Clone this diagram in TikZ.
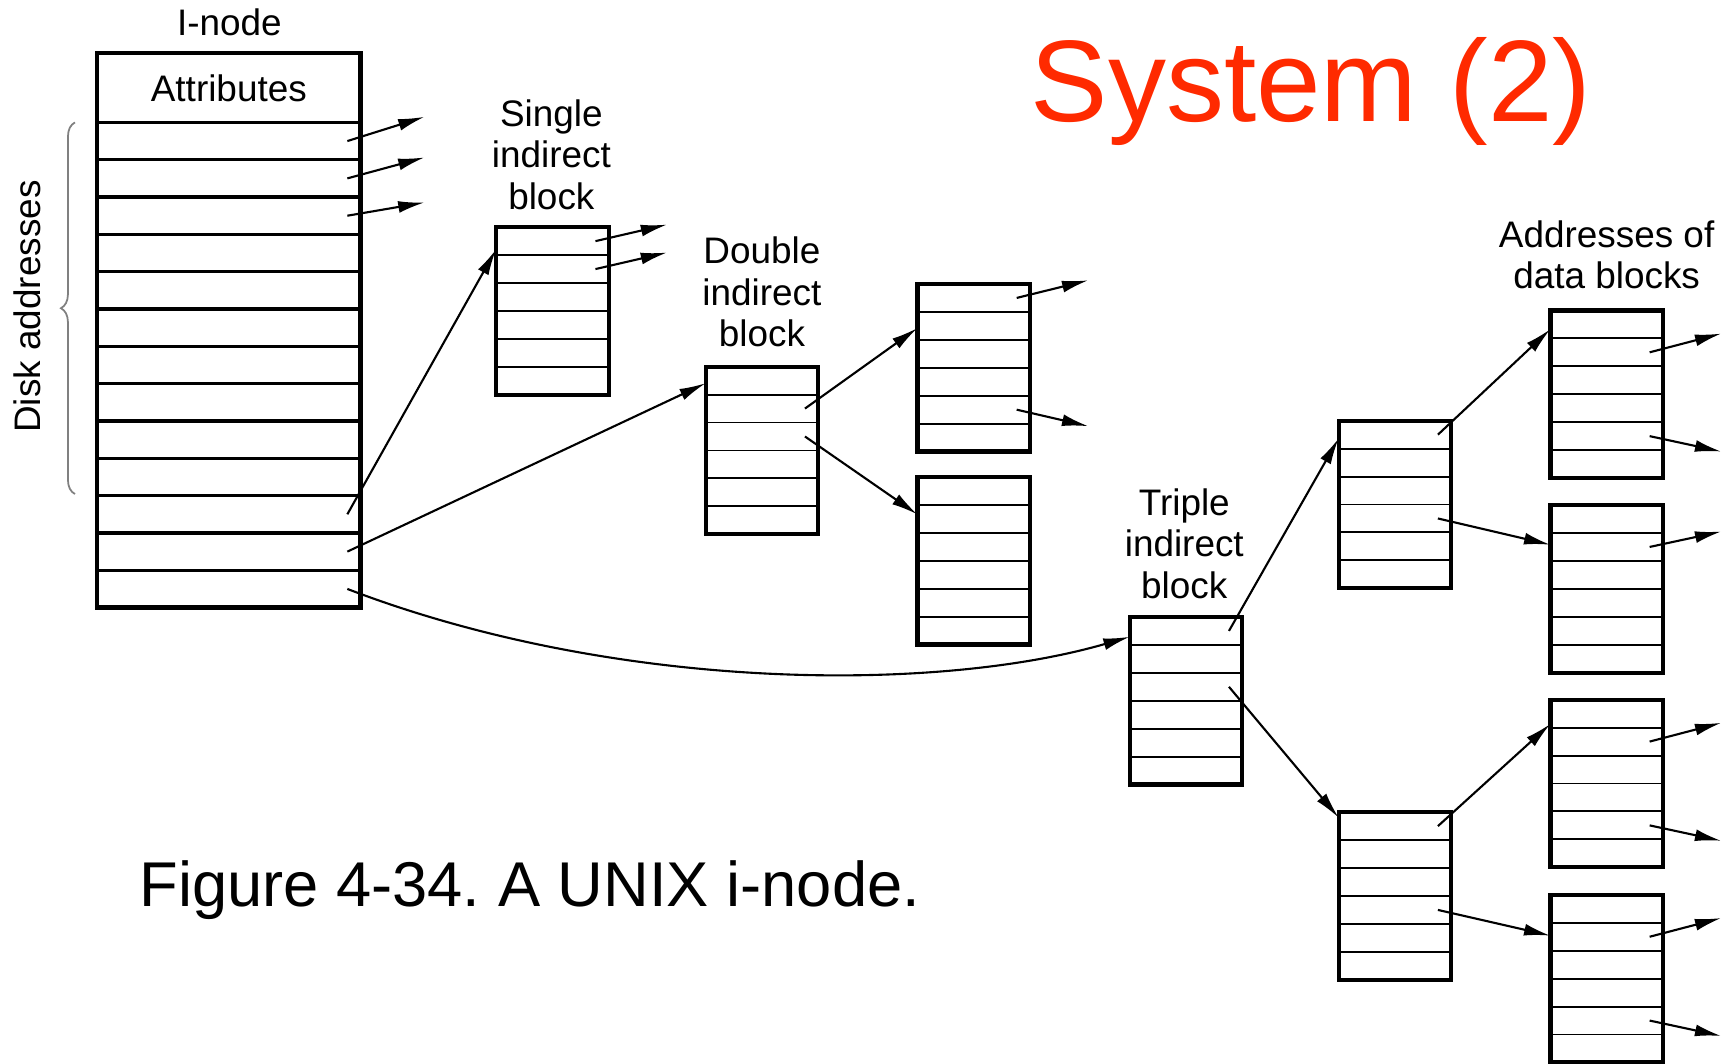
\documentclass[tikz,border=0pt]{standalone}
\usepackage{fontspec}
\setmainfont{Liberation Sans}
\usetikzlibrary{arrows.meta,calc,positioning,decorations.pathreplacing}
\definecolor{titlered}{RGB}{255,42,0}
% row lines of a block, plus a pointer coordinate (name-i) in every row
\newcommand{\blockrows}[3][cell]{%
  \foreach \i in {1,...,#3}{%
    \ifnum\i<#3 \draw[#1] ($(#2.north west)!\i/#3!(#2.south west)$) -- ($(#2.north east)!\i/#3!(#2.south east)$);\fi
    \coordinate (#2-\i) at ($(#2.north east)!{(\i-0.5)/#3}!(#2.south east)+(-12,0)$);
  }}

\begin{document}
\begin{tikzpicture}[x=0.11027mm,y=-0.11027mm,>={Latex[length=7.5pt,width=3.4pt]},
 every node/.style={font=\fontsize{10.5}{11.8}\selectfont,align=center,inner sep=0pt},
 blk/.style={draw,line width=1.2pt,minimum width=102*0.11027mm,minimum height=152*0.11027mm,outer sep=0pt},
 cell/.style={line width=0.55pt},
 irow/.style={line width=0.9pt},
 ptr/.style={->,line width=0.6pt}]
\useasboundingbox (0,0) rectangle (1568,964);
\node[font=\fontsize{33}{40}\selectfont,text=titlered,anchor=base] (title) at (1189,110) {System (2)};
\node[font=\fontsize{18}{22}\selectfont,anchor=base] (caption) at (480.5,822) {Figure 4-34.\ A UNIX i-node.};
% i-node
\node (inlbl) at (208,20) {I-node};
\node[blk,minimum width=239*0.11027mm,minimum height=503*0.11027mm] (inode) at (207.5,299.5) {};
\node (attr) at (207.5,80) {Attributes};
\node[minimum width=239*0.11027mm,minimum height=440*0.11027mm,outer sep=0pt] (addr) at (207.5,331) {};
\draw[irow] (addr.north west) -- (addr.north east);
\blockrows[irow]{addr}{13}
\draw[gray,line width=0.5pt,decorate,decoration={brace,amplitude=4pt}] (68,448) -- (68,111);
\node[rotate=90] (disk) at (25,278) {Disk addresses};
% indirect blocks
\node (sgllbl) at (500,140) {Single\\indirect\\block};
\node[blk] (sgl) at (501,282) {};
\node (dbllbl) at (691,265) {Double\\indirect\\block};
\node[blk] (dbl) at (691,408.5) {};
\node[blk] (d1) at (883,333.5) {};
\node[blk] (d2) at (883,508.5) {};
\node (trplbl) at (1074,493) {Triple\\indirect\\block};
\node[blk] (trp) at (1075.5,635.5) {};
\node[blk] (t1) at (1265,457.5) {};
\node[blk] (t2) at (1265,812.5) {};
% data block addresses
\node (datlbl) at (1457,231) {Addresses of\\data blocks};
\node[blk] (a1) at (1457,357.5) {};
\node[blk] (a2) at (1457,534) {};
\node[blk] (a3) at (1457,710.5) {};
\node[blk] (a4) at (1457,887.5) {};
\foreach \b in {sgl,dbl,d1,d2,trp,t1,t2,a1,a2,a3,a4} {\blockrows{\b}{6}}
% pointers
\draw[ptr] (addr-1) -- ++(70,-22);
\draw[ptr] (addr-2) -- ++(70,-19);
\draw[ptr] (addr-3) -- ++(70,-12);
\draw[ptr] (addr-11) -- ($(sgl.north west)+(0,20)$);
\draw[ptr] (addr-12) -- ($(dbl.north west)+(0,15)$);
\draw[ptr] (addr-13) .. controls (560,628) and (850,628) .. ($(trp.north west)+(0,18)$);
\draw[ptr] (sgl-1) -- ++(65,-15);
\draw[ptr] (sgl-2) -- ++(65,-15);
\draw[ptr] (dbl-2) -- ($(d1.north west)+(0,40)$);
\draw[ptr] (dbl-3) -- ($(d2.north west)+(0,34)$);
\draw[ptr] (d1-1) -- ++(65,-16);
\draw[ptr] (d1-5) -- ++(65,15);
\draw[ptr] (trp-1) -- ($(t1.north west)+(0,16)$);
\draw[ptr] (trp-3) -- ($(t2.north west)+(0,5)$);
\draw[ptr] (t1-1) -- ($(a1.north west)+(0,17)$);
\draw[ptr] (t1-4) -- ($(a2.north west)+(0,36)$);
\draw[ptr] (t2-1) -- ($(a3.north west)+(0,22)$);
\draw[ptr] (t2-4) -- ($(a4.north west)+(0,37)$);
\draw[ptr] (a1-2) -- ++(65,-17);
\draw[ptr] (a1-5) -- ++(65,14);
\draw[ptr] (a2-2) -- ++(65,-14);
\draw[ptr] (a3-2) -- ++(65,-17);
\draw[ptr] (a3-5) -- ++(65,14);
\draw[ptr] (a4-2) -- ++(65,-17);
\draw[ptr] (a4-5) -- ++(65,14);
\end{tikzpicture}
\end{document}
